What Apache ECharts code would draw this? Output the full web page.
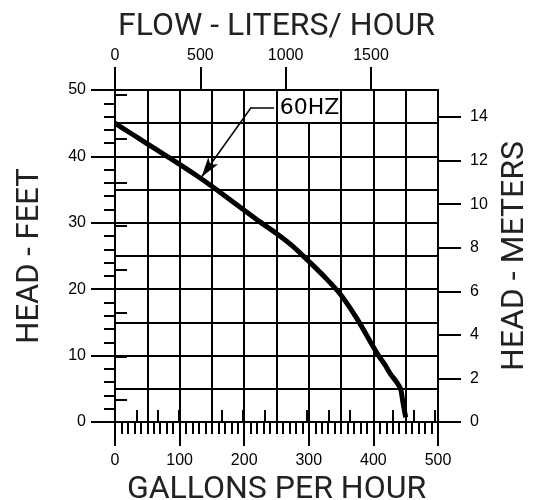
<!DOCTYPE html>
<html>
<head>
<meta charset="utf-8">
<script src="https://cdn.jsdelivr.net/npm/echarts@6/dist/echarts.min.js"></script>
<style>
  html, body { margin: 0; padding: 0; background: #fff; }
  #main { width: 541px; height: 500px; }
</style>
</head>
<body>
<div id="main"></div>
<script>
// pump curve
var gph    = [0, 25, 50, 75, 100, 125, 150, 175, 200, 225, 250, 275, 300, 325, 350, 375, 400, 408, 418, 426, 436, 442, 446, 450];
var headFt = [45.0, 43.45, 41.9, 40.35, 38.8, 37.2, 35.5, 33.7, 31.9, 30.1, 28.4, 26.5, 24.2, 21.8, 19.1, 15.5, 11.3, 10.0, 8.6, 7.3, 6.0, 5.0, 2.8, 0.7];

// axis ranges and tick values
var gphMax = 500, ftMax = 50;
var LPH_PER_GPH = 3.785411784, M_PER_FT = 0.3048;
var lphLabels = [0, 500, 1000, 1500];
var lphMinor  = [125, 250, 375, 625, 750, 875, 1125, 1250, 1375, 1625, 1750, 1875];
var mLabels   = [0, 2, 4, 6, 8, 10, 12, 14];
var mMinor    = [1, 3, 5, 7, 9, 11, 13, 15];

// 60HZ callout: leader line points (gph, ft) and label spot
var calloutElbow = [[246, 47.4], [211, 47.4]];
var calloutTip   = [134, 36.9];
var calloutText  = [301, 47.5];

var chart = echarts.init(document.getElementById('main'));

var black = '#000';
var labelFont = "'Liberation Sans', Arial, sans-serif";
var titleFont = "Roboto, 'Liberation Sans', sans-serif";
var line2 = { color: black, width: 2 };

function hidden(extra) {
  var a = {
    type: 'value',
    axisLine: { show: false },
    axisTick: { show: false },
    axisLabel: { show: false },
    splitLine: { show: false }
  };
  for (var k in extra) a[k] = extra[k];
  return a;
}

function plain(v) { return String(v); }

var option = {
  animation: false,
  backgroundColor: '#fff',
  grid: { left: 115, right: 103, top: 90, bottom: 78, outerBoundsMode: 'none' },
  xAxis: [
    {
      type: 'value', position: 'bottom', min: 0, max: gphMax, interval: 100,
      axisLine: { show: true, onZero: false, lineStyle: line2 },
      axisTick: { show: true, length: 24, lineStyle: line2 },
      minorTick: { show: true, splitNumber: 10, length: 12, lineStyle: line2 },
      axisLabel: { color: black, fontSize: 16, fontFamily: labelFont, margin: 31, formatter: plain },
      splitLine: { show: false },
      name: 'GALLONS PER HOUR', nameLocation: 'middle', nameGap: 30,
      nameTextStyle: { color: '#222', fontSize: 32, fontFamily: titleFont }
    },
    hidden({
      position: 'bottom', min: 0, max: gphMax, interval: 50,
      splitLine: { show: true, lineStyle: line2 }
    }),
    {
      type: 'value', position: 'top', min: 0, max: gphMax * LPH_PER_GPH,
      axisLine: { show: true, onZero: false, lineStyle: line2 },
      axisTick: { show: true, length: 23, lineStyle: line2, customValues: lphLabels },
      axisLabel: { color: black, fontSize: 16, fontFamily: labelFont, margin: 26, customValues: lphLabels, formatter: plain },
      splitLine: { show: false },
      name: 'FLOW - LITERS/ HOUR', nameLocation: 'middle', nameGap: 39,
      nameTextStyle: { color: '#222', fontSize: 32, fontFamily: titleFont }
    },
    hidden({
      position: 'top', min: 0, max: gphMax * LPH_PER_GPH,
      axisTick: { show: true, length: 12, lineStyle: line2, customValues: lphMinor }
    })
  ],
  yAxis: [
    {
      type: 'value', position: 'left', min: 0, max: ftMax, interval: 10,
      axisLine: { show: true, onZero: false, lineStyle: line2 },
      axisTick: { show: true, length: 24, lineStyle: line2 },
      minorTick: { show: true, splitNumber: 5, length: 11, lineStyle: line2 },
      axisLabel: { color: black, fontSize: 16, fontFamily: labelFont, margin: 29 },
      splitLine: { show: false },
      name: 'HEAD - FEET', nameLocation: 'middle', nameGap: 69, nameRotate: 90,
      nameTextStyle: { color: '#222', fontSize: 31, fontFamily: titleFont }
    },
    hidden({
      position: 'left', min: 0, max: ftMax, interval: 5,
      splitLine: { show: true, lineStyle: line2 }
    }),
    {
      type: 'value', position: 'right', min: 0, max: ftMax * M_PER_FT,
      axisLine: { show: true, onZero: false, lineStyle: line2 },
      axisTick: { show: true, length: 23, lineStyle: line2, customValues: mLabels },
      axisLabel: { color: black, fontSize: 16, fontFamily: labelFont, margin: 32, customValues: mLabels },
      splitLine: { show: false },
      name: 'HEAD - METERS', nameLocation: 'middle', nameGap: 60, nameRotate: 90,
      nameTextStyle: { color: '#222', fontSize: 32, fontFamily: titleFont }
    },
    hidden({
      position: 'right', min: 0, max: ftMax * M_PER_FT,
      axisTick: { show: true, length: 12, lineStyle: line2, customValues: mMinor }
    })
  ],
  series: [{
    type: 'line',
    xAxisIndex: 0,
    yAxisIndex: 0,
    data: gph.map(function (g, i) { return [g, headFt[i]]; }),
    smooth: 0.3,
    showSymbol: false,
    silent: true,
    lineStyle: { color: black, width: 5 },
    markLine: {
      silent: true,
      animation: false,
      label: { show: false },
      lineStyle: { color: black, width: 1.5, type: 'solid' },
      symbolSize: [9, 20],
      data: [
        [{ coord: calloutElbow[0], symbol: 'none' }, { coord: calloutElbow[1], symbol: 'none' }],
        [{ coord: calloutElbow[1], symbol: 'none' }, { coord: calloutTip, symbol: 'arrow' }]
      ]
    },
    markPoint: {
      silent: true,
      animation: false,
      symbol: 'rect',
      symbolSize: [60, 31],
      itemStyle: { color: '#fff' },
      label: {
        show: true, position: 'inside', offset: [0, 2],
        color: black, fontSize: 22, fontFamily: "'DejaVu Sans', sans-serif",
        formatter: '60HZ'
      },
      data: [{ coord: calloutText }]
    }
  }]
};

chart.setOption(option);
</script>
</body>
</html>
